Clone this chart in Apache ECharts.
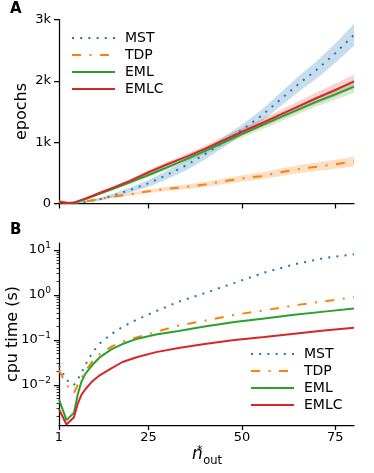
<!DOCTYPE html>
<html>
<head>
<meta charset="utf-8">
<script src="https://cdn.jsdelivr.net/npm/echarts@6/dist/echarts.min.js"></script>
<style>
	html, body { margin: 0; padding: 0; background: #fff; }
	#chart { width: 374px; height: 473px; }
</style>
</head>
<body>
<div id="chart"></div>
<script>
// panel A: epochs vs n_out (mean and spread)
var nA = [1, 3, 5, 8, 12, 16, 20, 25, 30, 35, 40, 45, 50, 55, 60, 65, 70, 75, 80];
var mstEpochs = [15, 8, 8, 25, 70, 140, 220, 330, 470, 620, 800, 1000, 1200, 1420, 1680, 1940, 2180, 2450, 2750];
var mstEpochsErr = [8, 6, 6, 12, 20, 30, 40, 55, 70, 80, 85, 85, 85, 95, 110, 125, 140, 160, 180];
var tdpEpochs = [35, 15, 8, 30, 75, 115, 150, 200, 240, 270, 310, 360, 410, 445, 505, 560, 600, 640, 685];
var tdpEpochsErr = [10, 10, 8, 10, 15, 20, 25, 30, 35, 38, 40, 45, 50, 55, 60, 65, 70, 75, 80];
var emlEpochs = [25, 8, 12, 70, 160, 250, 345, 465, 590, 720, 855, 995, 1130, 1265, 1400, 1530, 1660, 1780, 1905];
var emlEpochsErr = [10, 8, 8, 15, 20, 25, 30, 35, 40, 45, 50, 55, 60, 65, 70, 75, 80, 90, 100];
var emlcEpochs = [25, 8, 15, 80, 175, 270, 370, 510, 640, 760, 890, 1030, 1170, 1300, 1440, 1580, 1720, 1850, 1990];
var emlcEpochsErr = [10, 8, 10, 15, 20, 25, 30, 35, 40, 45, 50, 55, 60, 65, 75, 85, 95, 105, 110];
var epochTicks = [0, 1000, 2000, 3000];

// panel B: cpu time (s) vs n_out
var nB = [1, 3, 5, 6, 7, 8, 10, 12, 15, 18, 22, 27, 33, 40, 48, 56, 64, 72, 80];
var mstCpu = [0.0263, 0.0129, 0.0100, 0.0132, 0.0182, 0.0275, 0.0537, 0.0851, 0.135, 0.195, 0.288, 0.437, 0.708, 1.10, 1.86, 3.16, 4.79, 6.61, 8.04];
var tdpCpu = [0.0214, 0.0100, 0.0066, 0.0100, 0.0141, 0.0200, 0.0339, 0.0490, 0.0708, 0.0912, 0.115, 0.151, 0.209, 0.269, 0.363, 0.457, 0.589, 0.724, 0.891];
var emlCpu = [0.00479, 0.00166, 0.0024, 0.00603, 0.01175, 0.0174, 0.0282, 0.0417, 0.0617, 0.0813, 0.107, 0.132, 0.158, 0.200, 0.251, 0.302, 0.363, 0.427, 0.501];
var emlcCpu = [0.00288, 0.00132, 0.00191, 0.0038, 0.00603, 0.00794, 0.0123, 0.0166, 0.0234, 0.0324, 0.0417, 0.0537, 0.0661, 0.0813, 0.100, 0.117, 0.138, 0.162, 0.186];
var cpuDecades = [-2, -1, 0, 1];

var xTicks = [1, 25, 50, 75];
var names = ['MST', 'TDP', 'EML', 'EMLC'];

var FONT = 'DejaVu Sans';
var colors = {MST: '#1f77b4', TDP: '#ff7f0e', EML: '#2ca02c', EMLC: '#d62728'};
var dashes = {MST: [2, 6.2], TDP: [9, 8.5, 2, 8.5], EML: 'solid', EMLC: 'solid'};
var bandAlpha = {MST: 0.25, TDP: 0.25, EML: 0.2, EMLC: 0.2};

function pairs(xs, ys, fn){
	var out = [];
	for(var i = 0; i < xs.length; i++){
		out.push([xs[i], fn ? fn(ys[i], i) : ys[i]]);
	}
	return out;
}

function hexA(hex, a){
	var r = parseInt(hex.substr(1, 2), 16), g = parseInt(hex.substr(3, 2), 16), b = parseInt(hex.substr(5, 2), 16);
	return 'rgba(' + r + ',' + g + ',' + b + ',' + a + ')';
}

function lineSeries(name, data, xi, yi){
	return {
		name: name,
		type: 'line',
		xAxisIndex: xi,
		yAxisIndex: yi,
		data: data,
		symbol: 'none',
		z: 5,
		silent: true,
		animation: false,
		lineStyle: {color: colors[name], width: 2, type: dashes[name]},
		itemStyle: {color: colors[name]}
	};
}

// shaded spread: one polygon (upper edge, then lower edge backwards) through the axis scales
function bandSeries(name, mean, err){
	var data = [];
	for(var i = 0; i < nA.length; i++){
		data.push([nA[i], Math.max(0, mean[i] - err[i]), mean[i] + err[i]]);
	}
	return {
		name: name + ' band',
		type: 'custom',
		xAxisIndex: 0,
		yAxisIndex: 0,
		silent: true,
		animation: false,
		z: 2,
		encode: {x: 0, y: [1, 2]},
		data: data,
		renderItem: function(params, api){
			if(params.dataIndex !== 0){ return null; }
			var pts = [];
			for(var j = 0; j < data.length; j++){
				pts.push(api.coord([data[j][0], data[j][2]]));
			}
			for(var j2 = data.length - 1; j2 >= 0; j2--){
				pts.push(api.coord([data[j2][0], data[j2][1]]));
			}
			return {
				type: 'polygon',
				shape: {points: pts},
				style: {fill: hexA(colors[name], bandAlpha[name]), stroke: null}
			};
		}
	};
}

var epochData = {MST: [mstEpochs, mstEpochsErr], TDP: [tdpEpochs, tdpEpochsErr], EML: [emlEpochs, emlEpochsErr], EMLC: [emlcEpochs, emlcEpochsErr]};
var cpuData = {MST: mstCpu, TDP: tdpCpu, EML: emlCpu, EMLC: emlcCpu};

var series = [];
names.forEach(function(nm){
	series.push(bandSeries(nm, epochData[nm][0], epochData[nm][1]));
});
names.forEach(function(nm){
	series.push(lineSeries(nm, pairs(nA, epochData[nm][0]), 0, 0));
});
names.forEach(function(nm){
	series.push(lineSeries(nm, pairs(nB, cpuData[nm], function(v){ return Math.log10(v); }), 1, 1));
});

// minor ticks of the log axis (2..9 x 10^d)
var minorTicks = [];
for(var d = -3; d <= 1; d++){
	for(var k = 2; k <= 9; k++){
		var lv = d + Math.log10(k);
		if(lv > -2.89 && lv < 1.156){ minorTicks.push(lv); }
	}
}

function sup(v){
	return (v < 0 ? '\u2212' : '') + Math.abs(v);
}

var axisLine = {show: true, onZero: false, lineStyle: {color: '#000', width: 1.25}};
var tickStyle = {color: '#000', width: 1.25};
var labelStyle = {color: '#000', fontFamily: FONT, fontSize: 13};
var legendBase = {
	data: names, orient: 'vertical', padding: 0,
	itemWidth: 43, itemHeight: 14, itemGap: 3,
	itemStyle: {opacity: 0},
	textStyle: {color: '#000', fontFamily: FONT, fontSize: 14, lineHeight: 14, padding: [0, 0, 0, 5]},
	selectedMode: false
};

var option = {
	backgroundColor: '#fff',
	animation: false,
	grid: [
		{left: 59, top: 19.5, width: 295, height: 184, containLabel: false, outerBoundsMode: 'none'},
		{left: 59, top: 243, width: 295, height: 182, containLabel: false, outerBoundsMode: 'none'}
	],
	xAxis: [{
		gridIndex: 0, type: 'value', min: 1, max: 80,
		axisLine: axisLine,
		axisTick: {show: true, customValues: xTicks, length: 5, lineStyle: tickStyle},
		axisLabel: {show: false},
		splitLine: {show: false}
	}, {
		gridIndex: 1, type: 'value', min: 1, max: 80,
		axisLine: axisLine,
		axisTick: {show: true, customValues: xTicks, length: 5, lineStyle: tickStyle},
		axisLabel: Object.assign({customValues: xTicks, margin: 6}, labelStyle),
		splitLine: {show: false}
	}],
	yAxis: [{
		gridIndex: 0, type: 'value', min: 0, max: 3000, interval: 1000,
		name: 'epochs', nameLocation: 'middle', nameGap: 29, nameRotate: 90, nameMoveOverlap: false,
		nameTextStyle: {color: '#000', fontFamily: FONT, fontSize: 16},
		axisLine: axisLine,
		axisTick: {show: true, customValues: epochTicks, length: 5, lineStyle: tickStyle},
		axisLabel: Object.assign({
			customValues: epochTicks, margin: 8,
			formatter: function(v){ return v === 0 ? '0' : (v / 1000) + 'k'; }
		}, labelStyle),
		splitLine: {show: false}
	}, {
		gridIndex: 1, type: 'value', min: -2.89, max: 1.156, position: 'left',
		name: 'cpu time (s)', nameLocation: 'middle', nameGap: 38, nameRotate: 90, nameMoveOverlap: false,
		nameTextStyle: {color: '#000', fontFamily: FONT, fontSize: 16},
		axisLine: axisLine,
		axisTick: {show: true, customValues: cpuDecades, length: 5, lineStyle: tickStyle},
		axisLabel: {
			customValues: cpuDecades, margin: 8,
			formatter: function(v){ return '{b|10}{s|' + sup(v) + '}'; },
			rich: {
				b: {color: '#000', fontFamily: FONT, fontSize: 13},
				s: {color: '#000', fontFamily: FONT, fontSize: 9, padding: [0, 0, 8, 0]}
			}
		},
		splitLine: {show: false}
	}, {
		gridIndex: 1, type: 'value', min: -2.89, max: 1.156, position: 'left', offset: 0,
		axisLine: {show: false, onZero: false},
		axisTick: {show: true, customValues: minorTicks, length: 2.5, lineStyle: {color: '#000', width: 0.8}},
		axisLabel: {show: false},
		splitLine: {show: false}
	}],
	legend: [
		Object.assign({left: 71, top: 31}, legendBase),
		Object.assign({left: 250, top: 347}, legendBase)
	],
	graphic: [
		{type: 'text', x: 10, y: 9.5, style: {text: 'A', font: 'bold 15px DejaVu Sans', fill: '#000', verticalAlign: 'middle'}},
		{type: 'text', x: 10, y: 230, style: {text: 'B', font: 'bold 15px DejaVu Sans', fill: '#000', verticalAlign: 'middle'}},
		{type: 'text', x: 192, y: 454.5, style: {text: 'n', font: 'italic 17px DejaVu Sans', fill: '#000', verticalAlign: 'middle'}},
		{type: 'text', x: 197, y: 450, style: {text: '*', font: '11px DejaVu Sans', fill: '#000', verticalAlign: 'middle'}},
		{type: 'text', x: 203.3, y: 460.6, style: {text: 'out', font: '11.5px DejaVu Sans', fill: '#000', verticalAlign: 'middle'}}
	],
	series: series
};

var myChart = echarts.init(document.getElementById('chart'), null, {renderer: 'canvas'});
myChart.setOption(option);
</script>
</body>
</html>
